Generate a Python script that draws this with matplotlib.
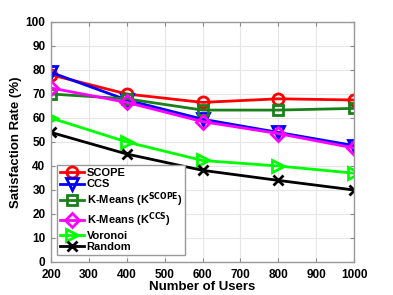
import numpy as np
import matplotlib.pyplot as plt

plt.rcParams['font.family'] = ['Liberation Sans', 'DejaVu Sans']
plt.rcParams['font.weight'] = 'bold'
plt.rcParams['mathtext.default'] = 'bf'

# data
users = [200, 400, 600, 800, 1000]
scope = [78, 70, 66.5, 68, 67.5]
ccs = [79, 67.5, 59.5, 54, 48.5]
km_scope = [70, 68, 63.3, 63.3, 64]
km_ccs = [72.5, 66.5, 58.5, 53.5, 47.5]
voronoi = [60, 50, 42.3, 40, 37]
rand = [54, 45, 38.2, 34, 30]

fig = plt.figure(figsize=(3.93, 2.95), dpi=100)
ax = fig.add_axes([51/393, 1-262/295, 303/393, 240/295])

lw = 2
ms = 8
ax.plot(users, scope, color='red', marker='o', ms=ms, mfc='none', mew=lw, lw=lw, label='SCOPE')
ax.plot(users, ccs, color='blue', marker='v', ms=ms, mfc='none', mew=lw, lw=lw, label='CCS')
ax.plot(users, km_scope, color='#1a801a', marker='s', ms=7, mfc='none', mew=lw, lw=lw,
        label=r'K-Means (K$^{\mathbf{SCOPE}}$)')
ax.plot(users, km_ccs, color='magenta', marker='D', ms=7, mfc='none', mew=lw, lw=lw,
        label=r'K-Means (K$^{\mathbf{CCS}}$)')
ax.plot(users, voronoi, color='#00ff00', marker='>', ms=ms, mfc='none', mew=lw, lw=lw, label='Voronoi')
ax.plot(users, rand, color='black', marker='x', ms=7, mfc='none', mew=lw, lw=lw, label='Random')

ax.set_xlim(200, 1000)
ax.set_ylim(0, 100)
ax.set_xticks(np.arange(200, 1001, 100))
ax.set_yticks(np.arange(0, 101, 10))
ax.grid(True, color='#e6e6e6', lw=0.8)
ax.set_axisbelow(True)
ax.tick_params(direction='in', length=3, labelsize=8.5, color='#888888', top=True, right=True)
ax.tick_params(axis='x', pad=5)
ax.tick_params(axis='y', pad=4)
for s in ax.spines.values():
    s.set_color('#999999')
    s.set_linewidth(1)
ax.set_xlabel('Number of Users', fontsize=9.5, fontweight='bold')
ax.set_ylabel('Satisfaction Rate (%)', fontsize=9.5, fontweight='bold')
ax.xaxis.set_label_coords(0.5, -0.08)
ax.yaxis.set_label_coords(-0.095, 0.5)

leg = ax.legend(loc='lower left', bbox_to_anchor=(0.02, 0.03), fontsize=8, fancybox=False,
                edgecolor='#999999', framealpha=1, handlelength=2.2, handletextpad=0.2,
                borderpad=0.25, labelspacing=0.12, borderaxespad=0)
leg.get_frame().set_linewidth(1)

fig.savefig('out.png', dpi=100)
